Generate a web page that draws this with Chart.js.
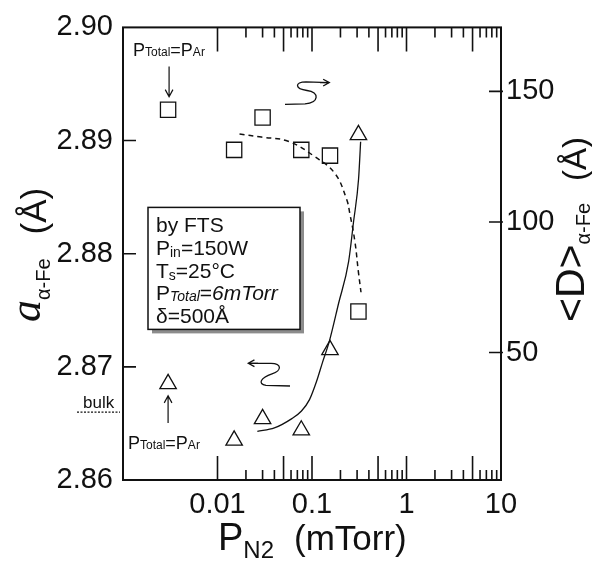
<!DOCTYPE html>
<html>
<head>
<meta charset="utf-8">
<script src="https://cdn.jsdelivr.net/npm/chart.js@4.4.1/dist/chart.umd.min.js"></script>
<style>
  html, body { margin: 0; padding: 0; background: #fff; }
</style>
</head>
<body>
<canvas id="chart" width="592" height="564"></canvas>
<script>
const SANS = "'Liberation Sans', Arial, Helvetica, sans-serif";
const SERIF = "'Liberation Serif', 'Times New Roman', serif";
const INK = "#111";

// N2 partial pressure (mTorr); the pure-Ar run sits at 0.003
const pN2 = [0.003, 0.015, 0.03, 0.077, 0.155, 0.31];
// lattice parameter of alpha-Fe (Å) -> left axis, triangles
const latticeA = [2.8685, 2.8635, 2.8654, 2.8644, 2.8715, 2.8905];
// mean grain size <D> (Å) -> right axis, squares
const grainD = [143.0, 127.6, 140.0, 127.6, 125.4, 65.7];

// hand-drawn guide through the lattice parameters
const guideAx = [0.0264, 0.040, 0.0606, 0.0774, 0.0941, 0.1116, 0.1292, 0.153, 0.191, 0.244, 0.275, 0.311, 0.327];
const guideAy = [2.8643, 2.8646, 2.8654, 2.8661, 2.8671, 2.8687, 2.8704, 2.8723, 2.8756, 2.8793, 2.8828, 2.8866, 2.8899];
// dashed guide through the grain sizes
const guideDx = [0.0171, 0.0291, 0.0559, 0.1072, 0.1746, 0.2323, 0.2518, 0.2845, 0.309, 0.330];
const guideDy = [133.7, 132.5, 130.9, 125.0, 118.6, 108.7, 103.1, 92.5, 81.2, 73.1];

const bulkA = 2.866;

const xTickLabels = [0.01, 0.1, 1, 10];
const yTickLabels = [2.86, 2.87, 2.88, 2.89, 2.90];
const y2TickLabels = [50, 100, 150];

function pts(xs, ys) {
  return xs.map((x, i) => ({ x: x, y: ys[i] }));
}

// draw a row of text pieces with their own font / baseline shift
function drawRuns(ctx, x, y, runs) {
  let cx = x;
  for (const r of runs) {
    if (r.gap) { cx += r.gap; continue; }
    ctx.font = (r.style || "") + " " + r.size + "px " + (r.family || SANS);
    ctx.fillText(r.t, cx, y + (r.dy || 0));
    cx += ctx.measureText(r.t).width;
  }
  return cx - x;
}

function arrow(ctx, x1, y1, x2, y2, head) {
  const ang = Math.atan2(y2 - y1, x2 - x1);
  ctx.beginPath();
  ctx.moveTo(x1, y1);
  ctx.lineTo(x2, y2);
  ctx.moveTo(x2 - head * Math.cos(ang - 0.5), y2 - head * Math.sin(ang - 0.5));
  ctx.lineTo(x2, y2);
  ctx.lineTo(x2 - head * Math.cos(ang + 0.5), y2 - head * Math.sin(ang + 0.5));
  ctx.stroke();
}

const decor = {
  id: "decor",
  afterDraw(chart) {
    const ctx = chart.ctx;
    const ca = chart.chartArea;
    const sx = chart.scales.x, sy = chart.scales.y, sy2 = chart.scales.y2;
    ctx.save();
    ctx.strokeStyle = INK;
    ctx.fillStyle = INK;
    ctx.lineCap = "butt";

    // frame
    ctx.lineWidth = 2;
    ctx.strokeRect(ca.left, ca.top, ca.right - ca.left, ca.bottom - ca.top);

    // log ticks on top and bottom, pointing inwards
    ctx.lineWidth = 1.6;
    ctx.beginPath();
    for (const d of xTickLabels) {
      for (let m = 1; m <= 9; m++) {
        const v = d * m;
        if (v > 10.0001) break;
        const px = sx.getPixelForValue(v);
        const len = (m === 1 || m === 5) ? 24 : 10;
        ctx.moveTo(px, ca.bottom); ctx.lineTo(px, ca.bottom - len);
        ctx.moveTo(px, ca.top); ctx.lineTo(px, ca.top + len);
      }
    }
    // left and right ticks
    for (const v of yTickLabels.slice(1, -1)) {
      const py = sy.getPixelForValue(v);
      ctx.moveTo(ca.left, py); ctx.lineTo(ca.left + 13, py);
    }
    for (const v of y2TickLabels) {
      const py = sy2.getPixelForValue(v);
      ctx.moveTo(ca.right - 12, py); ctx.lineTo(ca.right + 2, py);
    }
    ctx.stroke();

    // bulk value marker outside the left axis
    const yb = sy.getPixelForValue(bulkA);
    ctx.lineWidth = 1.2;
    ctx.setLineDash([2, 1.5]);
    ctx.beginPath();
    ctx.moveTo(ca.left - 46, yb); ctx.lineTo(ca.left - 3, yb);
    ctx.stroke();
    ctx.setLineDash([]);
    ctx.textBaseline = "alphabetic";
    ctx.textAlign = "left";
    drawRuns(ctx, ca.left - 40, yb - 4, [{ t: "bulk", size: 17 }]);

    // pure-Ar labels and arrows
    const xAr = sx.getPixelForValue(pN2[0]);
    const arLabel = [
      { t: "P", size: 18 }, { t: "Total", size: 12 }, { t: "=P", size: 18 }, { t: "Ar", size: 12 }
    ];
    drawRuns(ctx, ca.left + 10, ca.top + 29, arLabel);
    drawRuns(ctx, ca.left + 5, ca.bottom - 31, arLabel);
    ctx.lineWidth = 1.2;
    const ySq = sy2.getPixelForValue(grainD[0]);
    arrow(ctx, xAr + 1, ca.top + 39, xAr + 1, ySq - 13, 8);
    const yTr = sy.getPixelForValue(latticeA[0]);
    arrow(ctx, xAr, ca.bottom - 57, xAr, yTr + 12, 8);

    // curly arrows telling which axis each set belongs to
    ctx.lineWidth = 1.3;
    ctx.beginPath();
    ctx.moveTo(285, 104.3);
    ctx.lineTo(305, 103.8);
    ctx.bezierCurveTo(319, 103, 320, 92, 307, 90.5);
    ctx.bezierCurveTo(295, 89, 294, 82, 306, 81.8);
    ctx.lineTo(329, 82.6);
    ctx.stroke();
    arrow(ctx, 320, 82.6, 329.3, 82.6, 7);
    ctx.beginPath();
    ctx.moveTo(249, 363.3);
    ctx.lineTo(271, 363.3);
    ctx.bezierCurveTo(282, 363.5, 282, 370.5, 272, 373.8);
    ctx.bezierCurveTo(261, 377.5, 257, 384, 266, 385.3);
    ctx.lineTo(290, 386);
    ctx.stroke();
    arrow(ctx, 258, 363.3, 248.3, 363.3, 7);

    // deposition conditions box
    const bx = ca.left + 25, by = ca.top + 180, bw = 152, bh = 122;
    ctx.fillStyle = "#8c8c8c";
    ctx.fillRect(bx + 4, by + 4, bw, bh);
    ctx.fillStyle = "#fff";
    ctx.fillRect(bx, by, bw, bh);
    ctx.lineWidth = 1.5;
    ctx.strokeRect(bx, by, bw, bh);
    ctx.fillStyle = INK;
    const tx = bx + 8;
    let ty = by + 25;
    const lh = 22.6;
    drawRuns(ctx, tx, ty, [{ t: "by FTS", size: 21 }]);
    ty += lh;
    drawRuns(ctx, tx, ty, [{ t: "P", size: 21 }, { t: "in", size: 14, dy: 2 }, { t: "=150W", size: 21 }]);
    ty += lh;
    drawRuns(ctx, tx, ty, [{ t: "T", size: 21 }, { t: "s", size: 14, dy: 2 }, { t: "=25°C", size: 21 }]);
    ty += lh;
    drawRuns(ctx, tx, ty, [{ t: "P", size: 21 }, { t: "Total", size: 14, style: "italic", dy: 1 },
                           { t: "=", size: 21 }, { t: "6mTorr", size: 21, style: "italic" }]);
    ty += lh;
    drawRuns(ctx, tx, ty, [{ t: "δ=500Å", size: 21 }]);

    // axis titles
    drawRuns(ctx, 218, 550, [{ t: "P", size: 38 }, { t: "N", size: 24, dy: 8 }, { t: "2", size: 24, dy: 8 },
                             { gap: 20 }, { t: "(mTorr)", size: 35 }]);

    ctx.save();
    ctx.translate(40, 322);
    ctx.rotate(-Math.PI / 2);
    drawRuns(ctx, 0, 0, [{ t: "a", size: 44, style: "italic", family: SERIF }, { t: "α-Fe", size: 20, dy: 10 },
                         { gap: 24 }, { t: "(Å)", size: 35, dy: 6 }]);
    ctx.restore();

    ctx.save();
    ctx.translate(584, 322);
    ctx.rotate(-Math.PI / 2);
    drawRuns(ctx, 0, 0, [{ t: "<D>", size: 41 }, { t: "α-Fe", size: 20, dy: 6 },
                         { gap: 22 }, { t: "(Å)", size: 33, dy: 2 }]);
    ctx.restore();

    ctx.restore();
  }
};

const tickFont = { family: SANS, size: 29 };

new Chart(document.getElementById("chart"), {
  type: "scatter",
  data: {
    datasets: [
      {
        data: pts(pN2, latticeA), yAxisID: "y",
        pointStyle: "triangle", pointRadius: 9.5,
        borderColor: INK, borderWidth: 1.3, backgroundColor: "rgba(255,255,255,0)"
      },
      {
        data: pts(pN2, grainD), yAxisID: "y2",
        pointStyle: "rect", pointRadius: 10.8,
        borderColor: INK, borderWidth: 1.3, backgroundColor: "rgba(255,255,255,0)"
      },
      {
        data: pts(guideAx, guideAy), yAxisID: "y",
        showLine: true, pointRadius: 0, cubicInterpolationMode: "monotone",
        borderColor: INK, borderWidth: 1.3
      },
      {
        data: pts(guideDx, guideDy), yAxisID: "y2",
        showLine: true, pointRadius: 0, tension: 0.4,
        borderColor: INK, borderWidth: 1.5, borderDash: [5, 4]
      }
    ]
  },
  options: {
    responsive: false,
    animation: false,
    layout: { padding: { top: 18, left: 0, right: 0, bottom: 0 } },
    plugins: { legend: { display: false }, tooltip: { enabled: false } },
    scales: {
      x: {
        type: "logarithmic", min: 0.001, max: 10,
        afterBuildTicks: s => { s.ticks = xTickLabels.map(v => ({ value: v })); },
        afterFit: s => { s.height = 84; },
        ticks: { font: tickFont, color: INK, padding: 8, maxRotation: 0, autoSkip: false,
                 callback: v => String(v) },
        grid: { display: false, drawTicks: false },
        border: { display: false }
      },
      y: {
        position: "left", min: 2.86, max: 2.90,
        afterBuildTicks: s => { s.ticks = yTickLabels.map(v => ({ value: v })); },
        afterFit: s => { s.width = 123; },
        ticks: { font: tickFont, color: INK, padding: 10, callback: v => v.toFixed(2) },
        grid: { display: false, drawTicks: false },
        border: { display: false }
      },
      y2: {
        position: "right", min: 1.2, max: 174.5,
        afterBuildTicks: s => { s.ticks = y2TickLabels.map(v => ({ value: v })); },
        afterFit: s => { s.width = 91; },
        ticks: { font: tickFont, color: INK, padding: 5 },
        grid: { display: false, drawTicks: false },
        border: { display: false }
      }
    }
  },
  plugins: [decor]
});
</script>
</body>
</html>
